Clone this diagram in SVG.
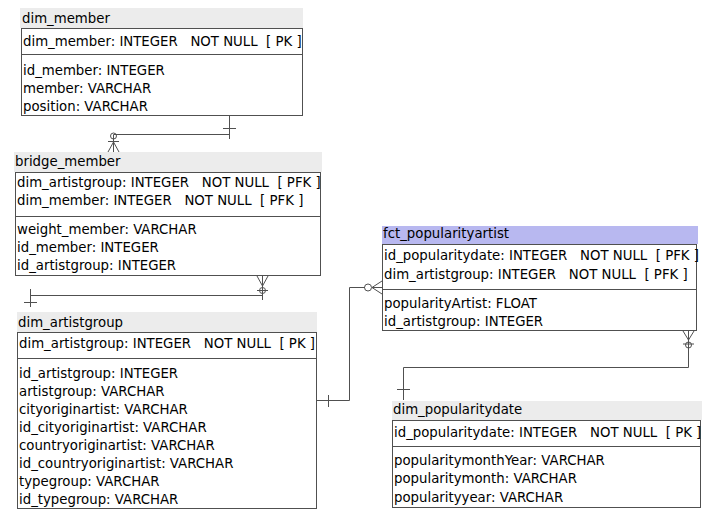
<svg xmlns="http://www.w3.org/2000/svg" width="716" height="530" viewBox="0 0 716 530" xml:space="preserve">
<style>
text{font-family:"DejaVu Sans","Liberation Sans",sans-serif;font-size:13.3px;fill:#000;white-space:pre}
.hdr{fill:#ececec}
.hdrf{fill:#b8b8f0}
.box{fill:#fff;stroke:#505050;stroke-width:1}
.sep{stroke:#505050;stroke-width:1}
.cn{fill:none;stroke:#505050;stroke-width:1}
</style>
<rect width="716" height="530" fill="#fff"/>
<g id="dim_member">
<rect class="hdr" x="20" y="8" width="283" height="20"/>
<rect class="box" x="21.5" y="28.5" width="281" height="87"/>
<line class="sep" x1="21.5" y1="54.5" x2="302.5" y2="54.5"/>
<text x="22" y="23">dim_member</text>
<text x="23" y="46">dim_member: INTEGER   NOT NULL  [ PK ]</text>
<text x="23" y="75">id_member: INTEGER</text>
<text x="23" y="93">member: VARCHAR</text>
<text x="23" y="111">position: VARCHAR</text>
</g>
<g id="bridge_member">
<rect class="hdr" x="14" y="152" width="308" height="20"/>
<rect class="box" x="15.5" y="172.5" width="305" height="103"/>
<line class="sep" x1="15.5" y1="216.5" x2="320.5" y2="216.5"/>
<text x="15" y="166">bridge_member</text>
<text x="17" y="187">dim_artistgroup: INTEGER   NOT NULL  [ PFK ]</text>
<text x="17" y="205">dim_member: INTEGER   NOT NULL  [ PFK ]</text>
<text x="17" y="234">weight_member: VARCHAR</text>
<text x="17" y="252">id_member: INTEGER</text>
<text x="17" y="270">id_artistgroup: INTEGER</text>
</g>
<g id="dim_artistgroup">
<rect class="hdr" x="17" y="312" width="300" height="20"/>
<rect class="box" x="17.5" y="332.5" width="299" height="176"/>
<line class="sep" x1="17.5" y1="358.5" x2="316.5" y2="358.5"/>
<text x="18" y="327">dim_artistgroup</text>
<text x="19" y="348">dim_artistgroup: INTEGER   NOT NULL  [ PK ]</text>
<text x="19" y="378">id_artistgroup: INTEGER</text>
<text x="19" y="396">artistgroup: VARCHAR</text>
<text x="19" y="414">cityoriginartist: VARCHAR</text>
<text x="19" y="432">id_cityoriginartist: VARCHAR</text>
<text x="19" y="450">countryoriginartist: VARCHAR</text>
<text x="19" y="468">id_countryoriginartist: VARCHAR</text>
<text x="19" y="486">typegroup: VARCHAR</text>
<text x="19" y="504">id_typegroup: VARCHAR</text>
</g>
<g id="fct_popularityartist">
<rect class="hdrf" x="382" y="226" width="316" height="18"/>
<rect class="box" x="382.5" y="244.5" width="314" height="86"/>
<line class="sep" x1="382.5" y1="289.5" x2="696.5" y2="289.5"/>
<text x="383" y="238">fct_popularityartist</text>
<text x="384" y="260">id_popularitydate: INTEGER   NOT NULL  [ PFK ]</text>
<text x="384" y="279">dim_artistgroup: INTEGER   NOT NULL  [ PFK ]</text>
<text x="384" y="308">popularityArtist: FLOAT</text>
<text x="384" y="326">id_artistgroup: INTEGER</text>
</g>
<g id="dim_popularitydate">
<rect class="hdr" x="392" y="401" width="310" height="19"/>
<rect class="box" x="392.5" y="420.5" width="308" height="87"/>
<line class="sep" x1="392.5" y1="446.5" x2="700.5" y2="446.5"/>
<text x="393" y="414">dim_popularitydate</text>
<text x="394" y="437">id_popularitydate: INTEGER   NOT NULL  [ PK ]</text>
<text x="394" y="465">popularitymonthYear: VARCHAR</text>
<text x="394" y="483">popularitymonth: VARCHAR</text>
<text x="394" y="502">popularityyear: VARCHAR</text>
</g>
<g id="connectors">
<path class="cn" d="M229.5 116 V139 M223 128.5 H236 M229.5 134.5 H113.5 V152"/>
<circle class="cn" cx="113.5" cy="136" r="3"/>
<path class="cn" d="M108 141.5 H119 M113.5 142 L108 152 M113.5 142 L119 152"/>
<path class="cn" d="M262.5 276 V300 M257 276 L262.5 286 L268 276 M262.5 295.5 H30.5 M30.5 289 V307 M24 302.5 H37"/>
<circle class="cn" cx="262.5" cy="290.5" r="3"/>
<path class="cn" d="M257 290.5 H268"/>
<path class="cn" d="M316 400.5 H349.5 V287.5 H365 M328.5 395 V407"/>
<circle class="cn" cx="368" cy="287.5" r="3.5"/>
<path class="cn" d="M372 287.5 L382 281 M372 287.5 L382 294 M372 287.5 H382"/>
<path class="cn" d="M683 331 L688.5 340 L694 331 M688.5 331 V367.5 H403.5 V400 M397 389.5 H410"/>
<circle class="cn" cx="688.5" cy="345" r="3"/>
<path class="cn" d="M683 344 H694"/>
</g>
</svg>
